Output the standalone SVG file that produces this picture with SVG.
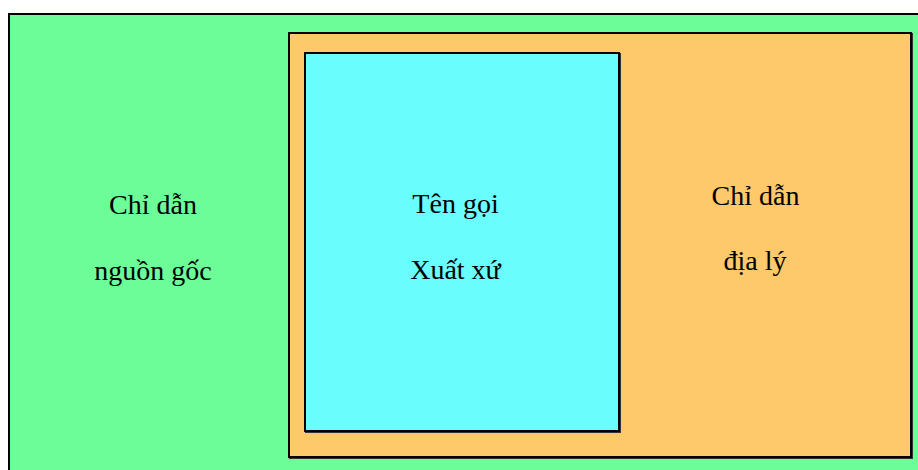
<svg xmlns="http://www.w3.org/2000/svg" width="918" height="470" viewBox="0 0 918 470">
<style>
.box{stroke:#000;stroke-width:2}
.shadow{fill:none;stroke:#333;stroke-width:2}
.lbl{font-family:"Liberation Serif","Times New Roman",serif;font-size:28px;fill:#000;text-anchor:middle}
</style>
<rect x="0" y="0" width="918" height="470" fill="#fff"/>
<g id="chi-dan-nguon-goc">
<rect class="box" x="9" y="14" width="920" height="470" fill="#6CFD98"/>
<text class="lbl" x="153" y="214">Chỉ dẫn</text>
<text class="lbl" x="153" y="280">nguồn gốc</text>
</g>
<g id="chi-dan-dia-ly">
<rect class="shadow" x="290" y="34" width="622" height="424"/>
<rect class="box" x="289" y="33" width="622" height="424" fill="#FDC96B"/>
<text class="lbl" x="755.5" y="205">Chỉ dẫn</text>
<text class="lbl" x="755" y="270">địa lý</text>
</g>
<g id="ten-goi-xuat-xu">
<rect class="shadow" x="306" y="54" width="314" height="378"/>
<rect class="box" x="305" y="53" width="314" height="378" fill="#6AFDFE"/>
<text class="lbl" x="455.5" y="213">Tên gọi</text>
<text class="lbl" x="455.5" y="279">Xuất xứ</text>
</g>
<g id="connectors"/>
</svg>
